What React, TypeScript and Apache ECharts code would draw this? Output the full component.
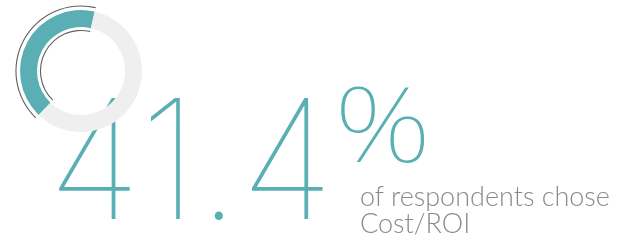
import React, { useEffect, useRef } from "react";
import * as echarts from "echarts";

const shareValue = 41.4;
const restValue = 100 - shareValue;
const bigLabel = "41.4";
const pctLabel = "%";
const captionLines = ["of respondents chose", "Cost/ROI"];

const TEAL = "#5aafb5";
const RING_GRAY = "#efefef";
const LINE_GRAY = "#5f5f5f";

export default function App() {
  const ref = useRef<HTMLDivElement>(null);
  useEffect(() => {
    const chart = echarts.init(ref.current!, null, { renderer: "svg" });
    const center = [81, 71];
    const start = 77;
    const ringData = [
      { value: shareValue, name: "Cost/ROI", itemStyle: { color: TEAL } },
      { value: restValue, name: "Other", itemStyle: { color: RING_GRAY } },
    ];
    const lineData = (c: string) => [
      { value: shareValue, name: "a", itemStyle: { color: c } },
      { value: restValue, name: "b", itemStyle: { color: "rgba(0,0,0,0)" } },
    ];
    const common = {
      type: "pie",
      center,
      startAngle: start,
      clockwise: false,
      silent: true,
      label: { show: false },
      labelLine: { show: false },
      emphasis: { disabled: true },
    };
    chart.setOption({
      animation: false,
      series: [
        { ...common, radius: [44, 61], data: ringData },
        { ...common, radius: [64.5, 65.6], data: lineData(LINE_GRAY) },
        { ...common, radius: [40, 41.1], data: lineData(LINE_GRAY) },
      ],
      graphic: [
        {
          type: "text",
          x: 334,
          y: 159,
          scaleX: 0.95,
          style: { text: bigLabel, fontFamily: "Inter", fontWeight: 100, fontSize: 166, lineHeight: 122, fill: TEAL, align: "right", verticalAlign: "middle" },
        },
        {
          type: "text",
          x: 334,
          y: 121,
          scaleX: 1.18,
          style: { text: pctLabel, fontFamily: "Noto Sans", fontWeight: 100, fontSize: 104, lineHeight: 76, fill: TEAL, align: "left", verticalAlign: "middle" },
        },
        {
          type: "text",
          x: 360,
          y: 182,
          style: { text: captionLines.join("\n"), fontFamily: "Lato", fontWeight: 300, fontSize: 27, lineHeight: 27, fill: "#8a8a8a", verticalAlign: "top" },
        },
      ],
    });
    return () => chart.dispose();
  }, []);
  return <div ref={ref} style={{ position: "fixed", left: 0, top: 0, width: 622, height: 240 }} />;
}
